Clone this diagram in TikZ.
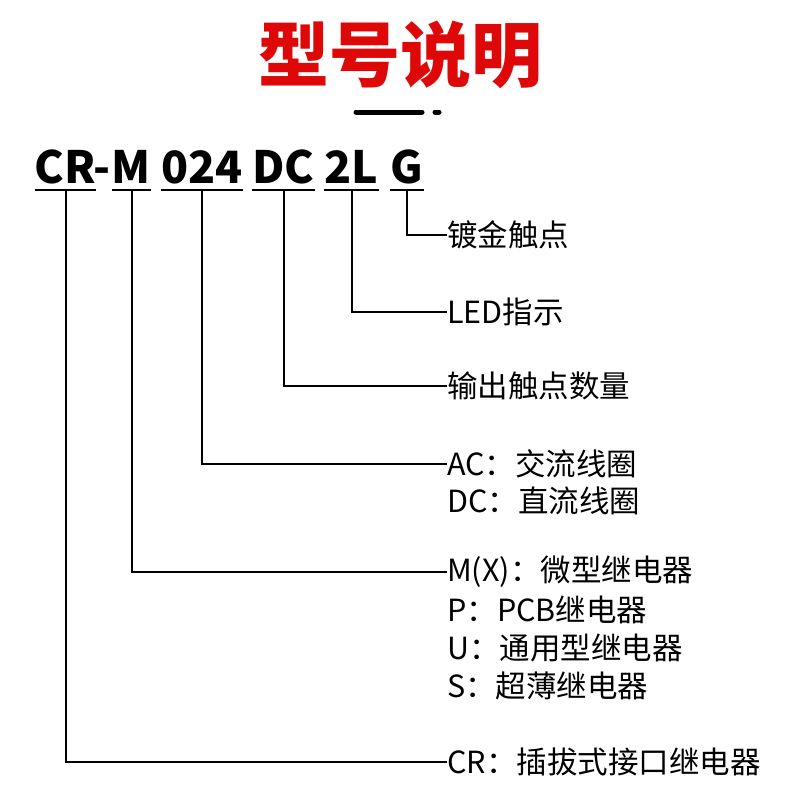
\documentclass[tikz,border=0pt]{standalone}
\usepackage{fontspec}
\setmainfont{Noto Sans CJK SC}
\usepackage{tikz}
\usetikzlibrary{calc}
\definecolor{titlered}{RGB}{222,8,8}

\begin{document}
\begin{tikzpicture}[x=1pt, y=-1pt,
  codetext/.style={font=\bfseries\fontsize{44.5}{44.5}\selectfont, inner sep=0pt, anchor=base},
  desc/.style={font=\fontsize{30.5}{30.5}\selectfont, inner sep=0pt, anchor=west},
  uline/.style={line width=2.5pt},
  conn/.style={line width=2pt}]
  \useasboundingbox (0,0) rectangle (800,800);

  % ---- titre ----
  \node[font=\bfseries\fontsize{71}{71}\selectfont, text=titlered] (title) at (400,55) {型号说明};
  \draw[line width=5pt, line cap=round] (356,112) -- (422,112);
  \draw[line width=5pt, line cap=round] (435,112) -- (439,112);

  % ---- code CR-M 024 DC 2L G ----
  \foreach \nm/\x/\t in {cr/65.5/CR, m/131.5/M, volt/202/024, dc/283.5/DC, led/351.5/2L, g/407/G}
    \node[codetext] (\nm) at (\x,183) {\t};
  \node[codetext] (hyph) at (102,183) {-};
  % soulignes
  \foreach \nm in {cr, m, volt, dc, led, g}
    \draw[uline] ([yshift=-7pt]\nm.base west) -- ([yshift=-7pt]\nm.base east);

  % ---- explications ----
  \node[desc] (lg) at (447,235) {镀金触点};
  \node[desc] (lled) at (447,312) {LED指示};
  \node[desc] (ldc) at (447,386) {输出触点数量};
  \node[desc] (lac) at (447,464) {AC：交流线圈};
  \node[desc] (ldcc) at (447,501) {DC：直流线圈};
  \node[desc] (lm) at (447,572) {M(X)：微型继电器};
  \node[desc] (lp) at (447,610) {P：PCB继电器};
  \node[desc] (lu) at (447,648) {U：通用型继电器};
  \node[desc] (ls) at (447,686) {S：超薄继电器};
  \node[desc] (lcr) at (447,762) {CR：插拔式接口继电器};

  % ---- liaisons ----
  \draw[conn] ([yshift=-7pt]g.base) |- (lg.west);
  \draw[conn] ([yshift=-7pt]led.base) |- (lled.west);
  \draw[conn] ([yshift=-7pt]dc.base) |- (ldc.west);
  \draw[conn] ([yshift=-7pt]volt.base) |- (lac.west);
  \draw[conn] ([yshift=-7pt]m.base) |- (lm.west);
  \draw[conn] ([yshift=-7pt]cr.base) |- (lcr.west);
\end{tikzpicture}
\end{document}
